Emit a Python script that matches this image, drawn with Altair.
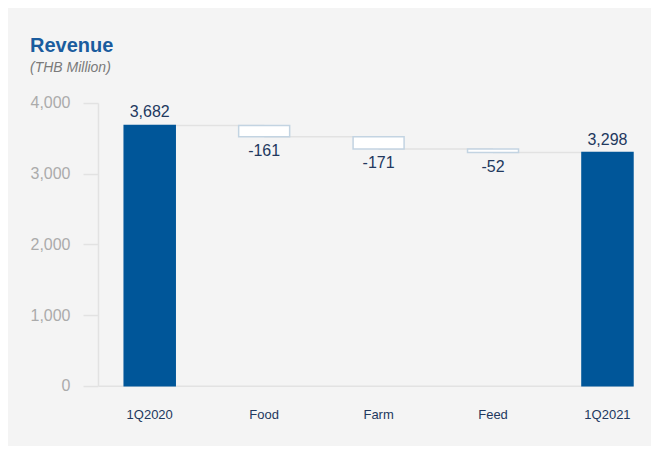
import altair as alt
import pandas as pd

categories = ["1Q2020", "Food", "Farm", "Feed", "1Q2021"]
amounts = [3682, -161, -171, -52, 3298]
kinds = ["total", "delta", "delta", "delta", "total"]
y_ticks = [0, 1000, 2000, 3000, 4000]

rows = []
running = 0
for i, (c, a, k) in enumerate(zip(categories, amounts, kinds)):
    if k == "total":
        start, end = 0, a
    else:
        start, end = running, running + a
    running = end
    rows.append(dict(cat=c, amount=a, kind=k, start=start, end=end,
                     lo=min(start, end), hi=max(start, end),
                     label=f"{a:,}",
                     nxt=categories[i + 1] if i + 1 < len(categories) else None))
df = pd.DataFrame(rows)

FONT = "Liberation Sans"
NAVY = "#22385e"
BLUE = "#005699"

xscale = alt.Scale(domain=categories, paddingInner=0.554, paddingOuter=0.1144,
                   align=1, round=False)
x_enc = alt.X("cat:N", sort=categories, scale=xscale,
              axis=alt.Axis(title=None, labelAngle=0, labelAlign="center", ticks=False,
                            bandPosition=0.5, domainColor="#e2e2e2", domainWidth=1.5,
                            labelPadding=29, labelColor=NAVY, labelFontSize=13,
                            labelFont=FONT))
yscale = alt.Scale(domain=[0, 4000], nice=False)

base = alt.Chart(df)

connectors = base.transform_filter("datum.nxt != null").mark_rule(
    color="#e2e2e2", strokeWidth=1.5
).encode(
    x=alt.X("cat:N", sort=categories, scale=xscale),
    x2="nxt:N",
    y=alt.Y("end:Q", scale=yscale),
)

bars = base.mark_bar(size=51, strokeWidth=1.5).encode(
    x=x_enc,
    y=alt.Y("lo:Q", scale=yscale,
            axis=alt.Axis(title=None, values=y_ticks, grid=False,
                          labelExpr="format(datum.value, ',d')",
                          domainColor="#e2e2e2", domainWidth=1.5, tickColor="#e2e2e2",
                          tickWidth=1.5, tickSize=15, labelPadding=13,
                          labelColor="#ababab", labelFontSize=16, labelFont=FONT)),
    y2="hi:Q",
    fill=alt.condition("datum.kind == 'total'", alt.value(BLUE), alt.value("#ffffff")),
    stroke=alt.condition("datum.kind == 'total'", alt.value(BLUE), alt.value("#c3d4e2")),
)

top_labels = base.transform_filter("datum.kind == 'total'").mark_text(
    baseline="alphabetic", dy=-8, fontSize=16, font=FONT, color=NAVY
).encode(
    x=alt.X("cat:N", sort=categories, scale=xscale),
    y=alt.Y("hi:Q", scale=yscale),
    text="label:N",
)

low_labels = base.transform_filter("datum.kind == 'delta'").mark_text(
    baseline="top", dy=6, fontSize=16, font=FONT, color=NAVY
).encode(
    x=alt.X("cat:N", sort=categories, scale=xscale),
    y=alt.Y("lo:Q", scale=yscale),
    text="label:N",
)

chart = alt.layer(connectors, bars, top_labels, low_labels).properties(
    width=535,
    height=282.7,
    autosize=alt.AutoSizeParams(type="none"),
    padding={"left": 90, "top": 95, "right": 18, "bottom": 60},
    background="#f4f4f4",
    title=alt.TitleParams(
        text="Revenue", subtitle="(THB Million)",
        anchor="start", frame="group", dx=-68, offset=20,
        font=FONT, fontSize=20, fontWeight="bold", color="#1a5c9e",
        subtitleFont=FONT, subtitleFontSize=14, subtitleFontStyle="italic",
        subtitleColor="#7a7a7a", subtitlePadding=5,
    ),
).configure_view(stroke=None)

chart.save("out.html", embed_options={"renderer": "svg", "actions": False})
